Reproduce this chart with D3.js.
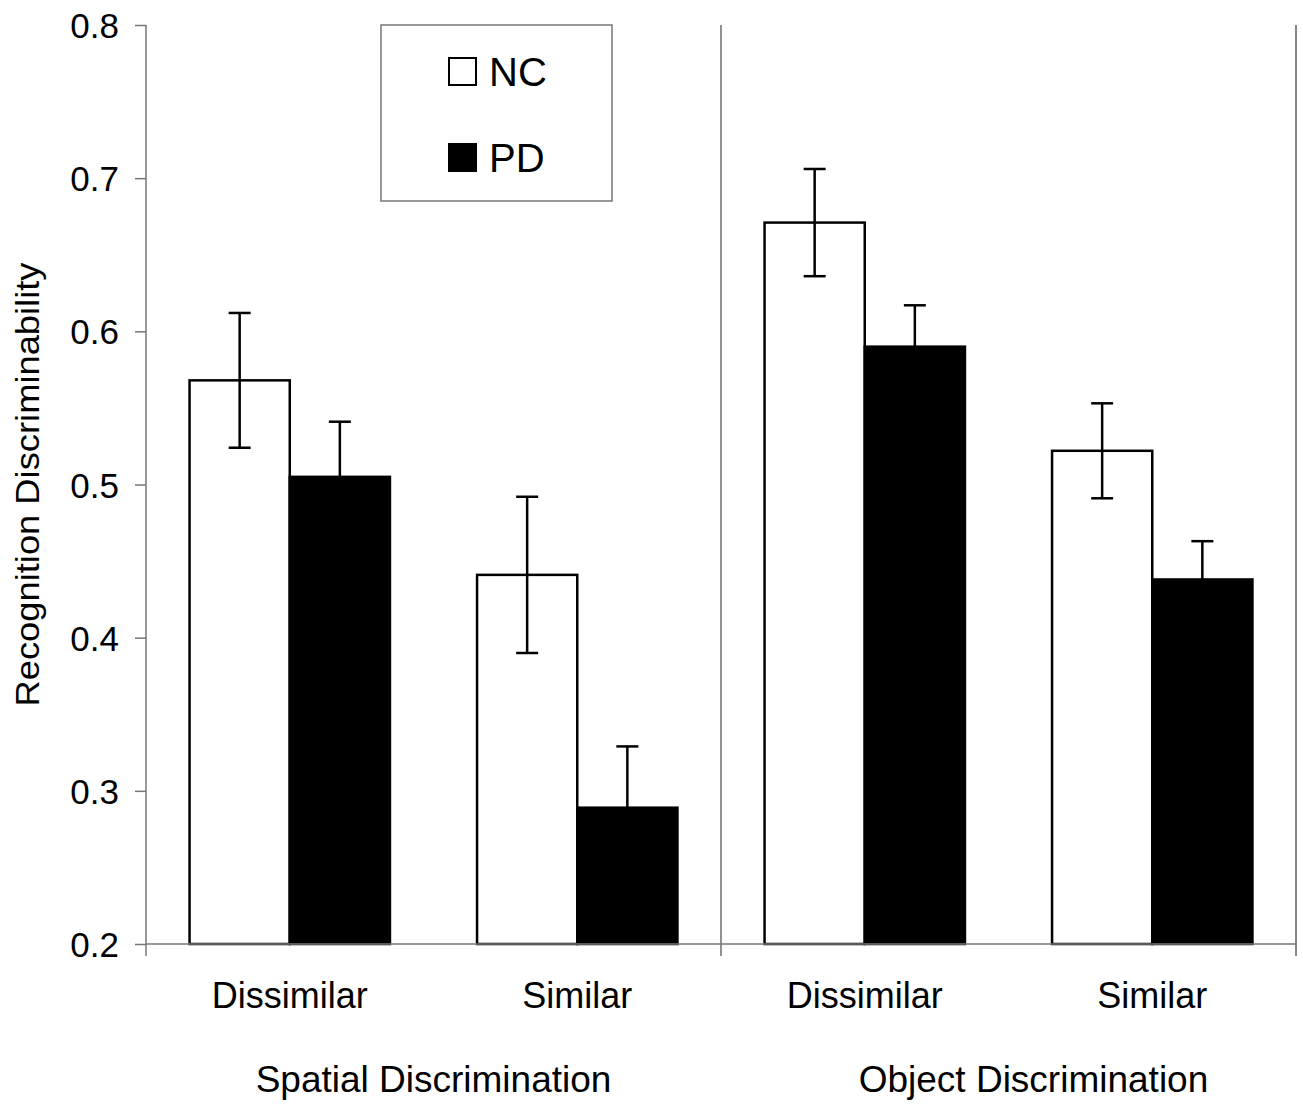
<!DOCTYPE html>
<html>
<head>
<meta charset="utf-8">
<script src="https://d3js.org/d3.v7.min.js"></script>
<style>
  body { margin: 0; background: #fff; }
  text { font-family: "Liberation Sans", Arial, sans-serif; fill: #000; }
</style>
</head>
<body>
<div id="chart"></div>
<script>
// data
var conditions = ['Spatial Dissimilar', 'Spatial Similar', 'Object Dissimilar', 'Object Similar'];
var conditionLabels = ['Dissimilar', 'Similar', 'Dissimilar', 'Similar'];
var groupLabels = ['Spatial Discrimination', 'Object Discrimination'];
var seriesNames = ['NC', 'PD'];
var ncMeans = [0.568, 0.441, 0.671, 0.522];
var ncErrors = [0.044, 0.051, 0.035, 0.031];
var pdMeans = [0.505, 0.289, 0.590, 0.438];
var pdErrors = [0.036, 0.040, 0.027, 0.025];
var yTicks = [0.2, 0.3, 0.4, 0.5, 0.6, 0.7, 0.8];

var width = 1303;
var height = 1104;
// plot area edges (don't call it "top", that's window.top)
var plotLeft = 146, plotRight = 1296, plotTop = 25, plotBottom = 944;

var colors = { NC: '#fff', PD: '#000' };

var rows = [];
conditions.forEach(function (c, i) {
    rows.push({ cond: c, series: 'NC', value: ncMeans[i], err: ncErrors[i] });
    rows.push({ cond: c, series: 'PD', value: pdMeans[i], err: pdErrors[i] });
});

var svg = d3.select('#chart').append('svg')
    .attr('width', width)
    .attr('height', height);

var y = d3.scaleLinear().domain([0.2, 0.8]).range([plotBottom, plotTop]);

var x = d3.scaleBand()
    .domain(conditions)
    .range([plotLeft, plotRight])
    .paddingInner(0.303)
    .paddingOuter(0.1515);

var xs = d3.scaleBand()
    .domain(seriesNames)
    .range([0, x.bandwidth()]);

var axisColor = '#777';

// y axis
var yAxis = svg.append('g')
    .attr('transform', 'translate(' + plotLeft + ',0)')
    .call(d3.axisLeft(y).tickValues(yTicks).tickSize(11).tickSizeOuter(0)
        .tickFormat(d3.format('.1f')));
yAxis.select('.domain').remove();
yAxis.selectAll('line').attr('stroke', axisColor).attr('stroke-width', 1.5);
yAxis.selectAll('text')
    .attr('x', -27)
    .attr('dy', '0.36em')
    .attr('fill', '#000')
    .style('font-size', '35px')
    .style('font-family', '"Liberation Sans", Arial, sans-serif');

svg.append('line')
    .attr('x1', plotLeft).attr('x2', plotLeft)
    .attr('y1', plotTop).attr('y2', plotBottom + 12)
    .attr('stroke', axisColor).attr('stroke-width', 1.5);

// right border
svg.append('line')
    .attr('x1', plotRight).attr('x2', plotRight)
    .attr('y1', plotTop).attr('y2', plotBottom + 12)
    .attr('stroke', '#888').attr('stroke-width', 2);

// separator between the two tasks
var sep = (x(conditions[1]) + x.bandwidth() + x(conditions[2])) / 2;
svg.append('line')
    .attr('x1', sep).attr('x2', sep)
    .attr('y1', plotTop).attr('y2', plotBottom + 12)
    .attr('stroke', '#222').attr('stroke-width', 1);

// bars
svg.selectAll('rect.bar')
    .data(rows)
    .enter()
    .append('rect')
    .attr('class', 'bar')
    .attr('x', function (d) { return x(d.cond) + xs(d.series); })
    .attr('y', function (d) { return y(d.value); })
    .attr('width', xs.bandwidth())
    .attr('height', function (d) { return y(0.2) - y(d.value); })
    .attr('fill', function (d) { return colors[d.series]; })
    .attr('stroke', '#000')
    .attr('stroke-width', 2.5);

// x axis line drawn over the bar bottoms
svg.append('line')
    .attr('x1', plotLeft).attr('x2', plotRight)
    .attr('y1', plotBottom).attr('y2', plotBottom)
    .attr('stroke', axisColor).attr('stroke-width', 1.5);

// error bars
var capHalf = 11;
function cx(d) { return x(d.cond) + xs(d.series) + xs.bandwidth() / 2; }

var err = svg.selectAll('g.err')
    .data(rows)
    .enter()
    .append('g')
    .attr('class', 'err')
    .attr('stroke', '#000')
    .attr('stroke-width', 2.5);

err.append('line')
    .attr('x1', cx)
    .attr('x2', cx)
    .attr('y1', function (d) { return y(d.value - d.err); })
    .attr('y2', function (d) { return y(d.value + d.err); });

[-1, 1].forEach(function (s) {
    err.append('line')
        .attr('x1', function (d) { return cx(d) - capHalf; })
        .attr('x2', function (d) { return cx(d) + capHalf; })
        .attr('y1', function (d) { return y(d.value + s * d.err); })
        .attr('y2', function (d) { return y(d.value + s * d.err); });
});

// condition labels
svg.selectAll('text.cond')
    .data(conditions)
    .enter()
    .append('text')
    .attr('class', 'cond')
    .attr('x', function (d) { return x(d) + x.bandwidth() / 2; })
    .attr('y', 1008)
    .attr('text-anchor', 'middle')
    .style('font-size', '36px')
    .text(function (d, i) { return conditionLabels[i]; });

// task labels
var groupCenters = [(plotLeft + sep) / 2, (sep + plotRight) / 2 + 25];
svg.selectAll('text.group')
    .data(groupLabels)
    .enter()
    .append('text')
    .attr('class', 'group')
    .attr('x', function (d, i) { return groupCenters[i]; })
    .attr('y', 1092)
    .attr('text-anchor', 'middle')
    .style('font-size', '37px')
    .text(function (d) { return d; });

// y title
svg.append('text')
    .attr('transform', 'translate(39,' + ((plotTop + plotBottom) / 2) + ') rotate(-90)')
    .attr('text-anchor', 'middle')
    .style('font-size', '33px')
    .attr('textLength', 444)
    .attr('lengthAdjust', 'spacingAndGlyphs')
    .text('Recognition Discriminability');

// legend
var legend = svg.append('g').attr('transform', 'translate(381,25)');
legend.append('rect')
    .attr('width', 231).attr('height', 176)
    .attr('fill', '#fff')
    .attr('stroke', '#777').attr('stroke-width', 1.5);

var items = legend.selectAll('g.item')
    .data(seriesNames)
    .enter()
    .append('g')
    .attr('class', 'item')
    .attr('transform', function (d, i) { return 'translate(68,' + (33 + i * 86) + ')'; });

items.append('rect')
    .attr('width', 27).attr('height', 27)
    .attr('fill', function (d) { return colors[d]; })
    .attr('stroke', '#000').attr('stroke-width', 2);

items.append('text')
    .attr('x', 40)
    .attr('y', 28)
    .style('font-size', '40px')
    .text(function (d) { return d; });
</script>
</body>
</html>
